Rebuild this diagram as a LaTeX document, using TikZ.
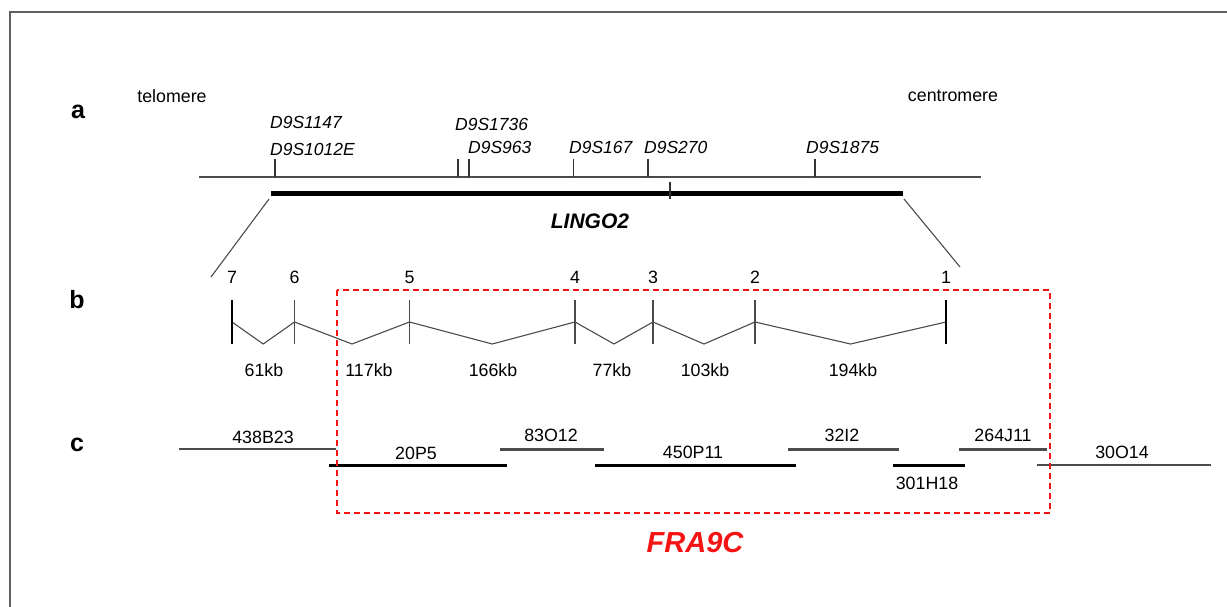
\documentclass[tikz,border=0pt]{standalone}
\usepackage{fontspec}
\setmainfont{Liberation Sans}
\usetikzlibrary{calc, positioning}
\definecolor{linegray}{RGB}{75,75,75}
\definecolor{framegray}{RGB}{95,95,95}
\definecolor{fragred}{RGB}{245,20,20}

\begin{document}
\begin{tikzpicture}[x=1pt,y=-1pt,
  txt/.style={inner sep=0pt, font=\fontsize{17.8}{20}\selectfont},
  marker/.style={inner sep=0pt, anchor=west, font=\fontsize{17.5}{20}\selectfont\itshape},
  panel/.style={inner sep=0pt, font=\fontsize{25}{28}\selectfont\bfseries},
  chrom/.style={line width=1.3pt, linegray},
  markertick/.style={line width=1.1pt, black!80},
  intron/.style={line width=1.1pt, linegray},
  bigexon/.style={line width=2.6pt, black},
  clonethin/.style={line width=1.3pt, linegray},
  clonemid/.style={line width=3pt, black!70},
  clonethick/.style={line width=3pt, black}]
\useasboundingbox (0,0) rectangle (1227,607);

% frame
\draw[framegray, line width=2pt] (10,607) -- (10,12) -- (1227,12);

% panel letters
\node[panel] (pa) at (78,112) {a};
\node[panel] (pb) at (77,300) {b};
\node[panel] (pc) at (77,445) {c};

% a: chromosome with markers
\coordinate (telo) at (199,177);
\coordinate (cen) at (981,177);
\draw[chrom] (telo) -- (cen);
\node[txt] (telolbl) at (172,96) {telomere};
\node[txt] (cenlbl) at (953,96) {centromere};
\foreach \name/\x in {m1/275, m2/458, m3/469, m4/573.5, m5/648, m6/815} {
  \coordinate (\name) at (\x,177);
  \draw[markertick] (\name) -- ++(0,-18);
}
\node[marker] at (270,122) {D9S1147};
\node[marker] at (270,149) {D9S1012E};
\node[marker] at (455,124) {D9S1736};
\node[marker] at (468,147) {D9S963};
\node[marker] at (569,147) {D9S167};
\node[marker] at (644,147) {D9S270};
\node[marker] at (806,147) {D9S1875};

% gene
\coordinate (g1) at (271,194);
\coordinate (g2) at (903,194);
\draw[line width=5pt, black] (g1) -- (g2);
\draw[markertick] (670,182) -- (670,199);
\node[inner sep=0pt, font=\fontsize{21}{24}\selectfont\bfseries\itshape] (lingo) at (590,221) {LINGO2};

% zoom lines
\coordinate (z1) at (211,277);
\coordinate (z2) at (960,267);
\draw[intron] ($(g1)+(-2,5)$) -- (z1);
\draw[intron] ($(g2)+(1,5)$) -- (z2);

% b: exons and introns
\foreach \n/\x in {7/232, 6/294.5, 5/409.5, 4/575, 3/653, 2/755, 1/946} {
  \coordinate (e\n) at (\x,322);
  \node[txt] at ($(e\n)+(0,-45)$) {\n};
}
\foreach \a/\b in {7/6, 6/5, 5/4, 4/3, 3/2, 2/1}
  \draw[intron] (e\a) -- ($(e\a)!0.5!(e\b)+(0,22)$) -- (e\b);
\foreach \n in {6,5,4,3,2}
  \draw[intron] ($(e\n)+(0,-22)$) -- ($(e\n)+(0,22)$);
\foreach \n in {7,1}
  \draw[bigexon] ($(e\n)+(0,-22)$) -- ($(e\n)+(0,22)$);

\node[txt] at (264,370) {61kb};
\node[txt] at (369,370) {117kb};
\node[txt] at (493,370) {166kb};
\node[txt] at (612,370) {77kb};
\node[txt] at (705,370) {103kb};
\node[txt] at (853,370) {194kb};

% c: clone contig
\draw[clonethin] (179,449) -- (336,449);
\node[txt] at (263,437) {438B23};
\draw[clonethick] (329,465) -- (507,465);
\node[txt] at (416,453) {20P5};
\draw[clonemid] (500,449) -- (604,449);
\node[txt] at (551,435) {83O12};
\draw[clonethick] (595,465) -- (796,465);
\node[txt] at (693,452) {450P11};
\draw[clonemid] (788,449) -- (899,449);
\node[txt] at (842,435) {32I2};
\draw[clonethick] (893,465) -- (965,465);
\node[txt] at (927,483) {301H18};
\draw[clonemid] (959,449) -- (1047,449);
\node[txt] at (1003,435) {264J11};
\draw[clonethin] (1037,465) -- (1211,465);
\node[txt] at (1122,452) {30O14};

% fragile site
\draw[fragred, line width=1.5pt, dash pattern=on 6pt off 4pt] (337,290) rectangle (1050,513);
\node[inner sep=0pt, text=fragred, font=\fontsize{29}{32}\selectfont\bfseries\itshape] (fra) at (695,543) {FRA9C};
\end{tikzpicture}
\end{document}
